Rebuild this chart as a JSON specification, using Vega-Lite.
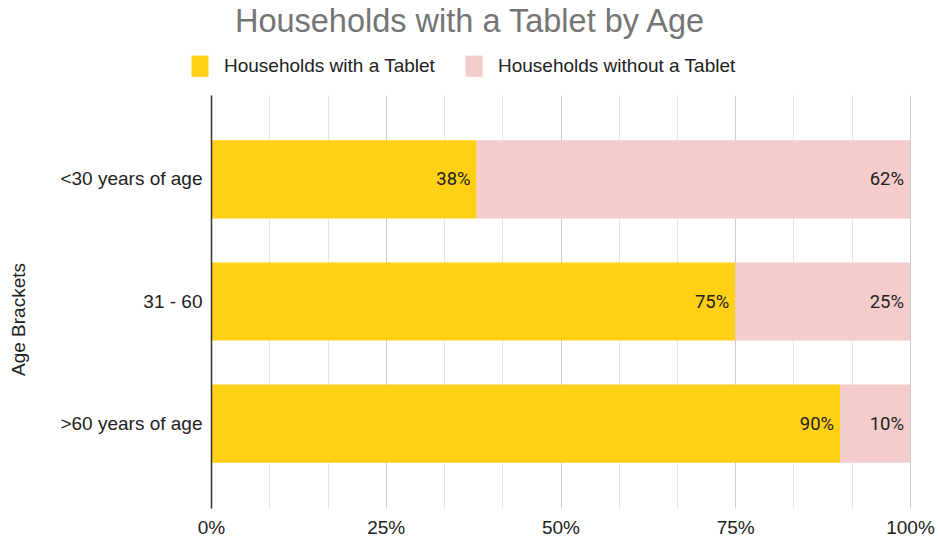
{
  "$schema": "https://vega.github.io/schema/vega-lite/v6.json",
  "width": 699,
  "height": 413,
  "autosize": {"type": "none"},
  "padding": {"left": 211, "top": 95, "right": 28, "bottom": 36},
  "background": "white",
  "title": {
    "text": "Households with a Tablet by Age",
    "font": "Liberation Sans",
    "fontSize": 32.5,
    "fontWeight": "normal",
    "color": "#757575",
    "anchor": "middle",
    "dx": -91,
    "offset": 17
  },
  "config": {
    "view": {"stroke": null},
    "font": "Liberation Sans"
  },
  "data": {
    "values": [
      {"age": "<30 years of age", "series": "Households with a Tablet", "share": 0.38},
      {"age": "<30 years of age", "series": "Households without a Tablet", "share": 0.62},
      {"age": "31 - 60", "series": "Households with a Tablet", "share": 0.75},
      {"age": "31 - 60", "series": "Households without a Tablet", "share": 0.25},
      {"age": ">60 years of age", "series": "Households with a Tablet", "share": 0.90},
      {"age": ">60 years of age", "series": "Households without a Tablet", "share": 0.10}
    ]
  },
  "encoding": {
    "y": {
      "field": "age",
      "type": "nominal",
      "sort": ["<30 years of age", "31 - 60", ">60 years of age"],
      "scale": {"paddingInner": 0.36, "paddingOuter": 0.37},
      "axis": {
        "title": "Age Brackets",
        "titleFont": "Liberation Sans",
        "titleFontSize": 19,
        "titleFontWeight": "normal",
        "titleColor": "#222222",
        "titleAngle": -90,
        "titleX": -193,
        "titleY": 224,
        "titleAlign": "center",
        "titleBaseline": "middle",
        "labelFont": "Liberation Sans",
        "labelFontSize": 19,
        "labelColor": "#222222",
        "labelPadding": 9,
        "labelLimit": 0,
        "ticks": false,
        "domain": true,
        "domainColor": "#333333",
        "domainWidth": 1.5,
        "grid": false,
        "zindex": 2
      }
    }
  },
  "layer": [
    {
      "mark": {"type": "bar"},
      "encoding": {
        "x": {
          "field": "share",
          "type": "quantitative",
          "stack": "zero",
          "scale": {"domain": [0, 1], "nice": false},
          "axis": {
            "orient": "bottom",
            "values": [0.0833333, 0.1666667, 0.3333333, 0.4166667, 0.5833333, 0.6666667, 0.8333333, 0.9166667],
            "grid": true,
            "gridColor": "#e6e6e6",
            "gridWidth": 1,
            "labels": false,
            "ticks": false,
            "domain": false,
            "title": null,
            "zindex": 0
          }
        },
        "order": {"field": "series", "sort": "ascending"},
        "color": {
          "field": "series",
          "type": "nominal",
          "scale": {
            "domain": ["Households with a Tablet", "Households without a Tablet"],
            "range": ["#FFD014", "#F4CCCC"]
          },
          "legend": {
            "title": null,
            "orient": "none",
            "direction": "horizontal",
            "legendX": -22,
            "legendY": -40,
            "symbolType": "M-0.8,-1H0.8V1H-0.8Z",
            "symbolSize": 450,
            "symbolStrokeWidth": 0,
            "labelFont": "Liberation Sans",
            "labelFontSize": 19,
            "labelColor": "#222222",
            "labelOffset": 13,
            "labelLimit": 0,
            "columnPadding": 27
          }
        }
      }
    },
    {
      "mark": {
        "type": "text",
        "align": "right",
        "baseline": "middle",
        "dx": -6,
        "font": "Roboto",
        "fontSize": 18.5,
        "color": "#222222"
      },
      "encoding": {
        "x": {
          "field": "share",
          "type": "quantitative",
          "stack": "zero",
          "axis": {
            "orient": "bottom",
            "values": [0, 0.25, 0.5, 0.75, 1],
            "format": ".0%",
            "grid": true,
            "gridColor": "#cccccc",
            "gridWidth": 1,
            "ticks": false,
            "domain": false,
            "title": null,
            "labelFont": "Liberation Sans",
            "labelFontSize": 19,
            "labelColor": "#222222",
            "labelPadding": 10,
            "labelFlush": false,
            "zindex": 0
          }
        },
        "order": {"field": "series", "sort": "ascending"},
        "detail": {"field": "series"},
        "text": {"field": "share", "type": "quantitative", "format": ".0%"}
      }
    }
  ],
  "resolve": {"axis": {"x": "independent"}}
}
